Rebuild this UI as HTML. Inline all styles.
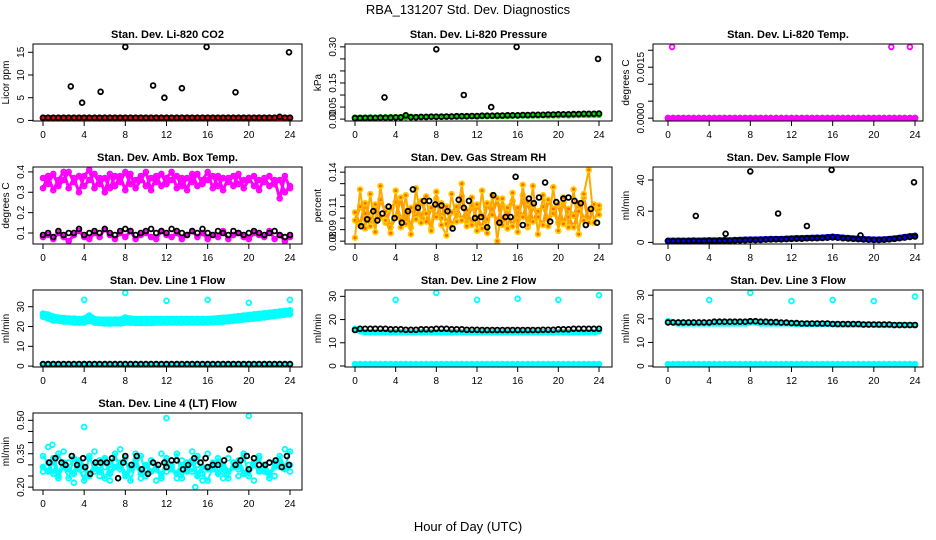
<!DOCTYPE html>
<html><head><meta charset="utf-8"><style>
body{margin:0;background:#fff}
svg{display:block;font-family:"Liberation Sans",sans-serif}
</style></head><body>
<svg id="c" width="936" height="540"></svg>
<script>
const H=[0,0.5,1,1.5,2,2.5,3,3.5,4,4.5,5,5.5,6,6.5,7,7.5,8,8.5,9,9.5,10,10.5,11,11.5,12,12.5,13,13.5,14,14.5,15,15.5,16,16.5,17,17.5,18,18.5,19,19.5,20,20.5,21,21.5,22,22.5,23,23.5,24];
const hourTicks=[0,4,8,12,16,20,24];
// CO2
const co2Red=[0.5,0.5,0.5,0.5,0.5,0.5,0.5,0.5,0.5,0.5,0.5,0.5,0.5,0.5,0.5,0.5,0.5,0.5,0.5,0.5,0.5,0.5,0.5,0.5,0.5,0.5,0.5,0.5,0.5,0.5,0.5,0.5,0.5,0.5,0.5,0.5,0.5,0.5,0.5,0.5,0.5,0.5,0.5,0.5,0.5,0.5,0.5,0.5,0.5];
const co2Blk=[0.6,0.6,0.6,0.6,0.6,0.6,0.6,0.6,0.6,0.6,0.6,0.6,0.6,0.6,0.6,0.6,0.6,0.6,0.6,0.6,0.6,0.6,0.6,0.6,0.6,0.6,0.6,0.6,0.6,0.6,0.6,0.6,0.6,0.6,0.6,0.6,0.6,0.6,0.6,0.6,0.6,0.6,0.6,0.6,0.6,0.6,0.8,0.6,0.6];
const co2OutX=[2.7,3.8,5.6,8,10.7,11.8,13.5,15.9,18.7,23.9];
const co2OutY=[7.5,3.9,6.3,16.2,7.7,5,7.1,16.2,6.2,15];
// Pressure
const prGreen=[0.006,0.006,0.006,0.007,0.006,0.007,0.007,0.008,0.007,0.008,0.008,0.009,0.008,0.009,0.009,0.010,0.009,0.010,0.010,0.011,0.010,0.011,0.011,0.012,0.011,0.012,0.012,0.013,0.012,0.013,0.013,0.014,0.014,0.015,0.014,0.015,0.015,0.016,0.015,0.016,0.016,0.017,0.016,0.017,0.017,0.018,0.017,0.018,0.018];
const prBlk=[0.004,0.004,0.005,0.005,0.005,0.006,0.006,0.006,0.007,0.007,0.016,0.008,0.008,0.009,0.009,0.010,0.010,0.010,0.011,0.011,0.012,0.012,0.012,0.013,0.013,0.014,0.014,0.014,0.015,0.015,0.016,0.016,0.016,0.017,0.017,0.018,0.018,0.018,0.019,0.019,0.020,0.020,0.020,0.021,0.021,0.022,0.022,0.022,0.023];
const prOutX=[2.9,8,10.7,13.4,15.9,23.9];
const prOutY=[0.09,0.29,0.1,0.05,0.3,0.25];
// Temp
const tpMag=[0,0,0,0,0,0,0,0,0,0,0,0,0,0,0,0,0,0,0,0,0,0,0,0,0,0,0,0,0,0,0,0,0,0,0,0,0,0,0,0,0,0,0,0,0,0,0,0,0];
const tpOutX=[0.4,21.7,23.5];
const tpOutY=[0.0021,0.0021,0.0021];
// Amb box temp
const abUp1=[0.37,0.34,0.39,0.33,0.36,0.40,0.35,0.38,0.33,0.36,0.39,0.34,0.37,0.32,0.38,0.35,0.40,0.34,0.36,0.38,0.33,0.37,0.35,0.39,0.34,0.36,0.38,0.33,0.37,0.35,0.39,0.34,0.36,0.38,0.33,0.37,0.35,0.38,0.34,0.36,0.37,0.33,0.36,0.35,0.38,0.34,0.36,0.30,0.33];
const abUp2=[0.32,0.38,0.31,0.36,0.40,0.32,0.37,0.30,0.38,0.41,0.32,0.37,0.30,0.39,0.33,0.38,0.31,0.39,0.32,0.36,0.40,0.31,0.38,0.33,0.37,0.40,0.32,0.37,0.31,0.39,0.33,0.36,0.40,0.32,0.38,0.31,0.37,0.33,0.39,0.32,0.36,0.38,0.31,0.37,0.33,0.36,0.27,0.38,0.32];
const abLow=[0.08,0.09,0.07,0.10,0.08,0.06,0.09,0.11,0.08,0.07,0.10,0.08,0.12,0.09,0.07,0.10,0.08,0.11,0.07,0.09,0.10,0.08,0.07,0.11,0.09,0.08,0.10,0.07,0.09,0.11,0.08,0.10,0.07,0.09,0.08,0.11,0.07,0.09,0.10,0.08,0.07,0.10,0.09,0.08,0.11,0.07,0.09,0.06,0.08];
const abBlk=[0.09,0.10,0.08,0.11,0.09,0.10,0.10,0.12,0.09,0.10,0.11,0.10,0.12,0.10,0.09,0.11,0.12,0.11,0.09,0.10,0.11,0.12,0.10,0.11,0.10,0.12,0.11,0.10,0.09,0.11,0.10,0.12,0.10,0.09,0.11,0.10,0.09,0.11,0.10,0.09,0.10,0.11,0.10,0.09,0.10,0.11,0.09,0.08,0.09];
// RH
const rh1=[0.098,0.110,0.104,0.093,0.112,0.101,0.096,0.108,0.114,0.099,0.106,0.092,0.111,0.103,0.097,0.109,0.101,0.113,0.095,0.105,0.110,0.098,0.107,0.094,0.112,0.102,0.099,0.108,0.096,0.111,0.104,0.093,0.109,0.101,0.114,0.097,0.106,0.110,0.099,0.104,0.112,0.095,0.108,0.102,0.113,0.098,0.107,0.110,0.103];
const rh2=[0.105,0.094,0.113,0.100,0.097,0.116,0.106,0.092,0.101,0.118,0.095,0.109,0.099,0.115,0.104,0.091,0.117,0.100,0.110,0.093,0.103,0.119,0.097,0.111,0.100,0.091,0.113,0.103,0.117,0.094,0.109,0.115,0.098,0.120,0.092,0.111,0.101,0.094,0.116,0.108,0.096,0.114,0.101,0.092,0.106,0.118,0.096,0.112,0.108];
const rh3=[0.083,0.125,0.091,0.121,0.088,0.128,0.098,0.087,0.124,0.092,0.120,0.086,0.126,0.096,0.119,0.089,0.123,0.094,0.085,0.121,0.097,0.130,0.093,0.118,0.089,0.124,0.087,0.120,0.080,0.117,0.091,0.122,0.088,0.129,0.094,0.128,0.086,0.120,0.093,0.127,0.089,0.118,0.092,0.125,0.086,0.121,0.142,0.096,0.111];
const rhBlkX=[0.6,1.2,1.8,2.2,2.7,3.3,3.9,4.6,5.2,5.7,6.2,6.8,7.3,7.9,8.5,9.1,9.6,10.2,10.7,11.2,11.8,12.4,13,13.6,14.2,14.8,15.3,15.8,16.5,17.1,17.6,18.1,18.7,19.2,19.8,20.5,21,21.6,22.2,22.7,23.2,23.8];
const rhBlkY=[0.093,0.099,0.106,0.098,0.104,0.110,0.100,0.096,0.106,0.125,0.109,0.115,0.115,0.112,0.111,0.106,0.091,0.116,0.109,0.115,0.100,0.101,0.092,0.120,0.096,0.101,0.101,0.136,0.094,0.117,0.113,0.118,0.131,0.097,0.114,0.117,0.118,0.115,0.113,0.094,0.108,0.096];
// Sample flow
const sfBlue=[1.0,1.0,1.1,1.0,1.1,1.2,1.1,1.2,1.3,1.2,1.3,1.4,1.3,1.5,1.6,1.7,1.8,1.8,1.9,2.0,2.1,2.2,2.2,2.3,2.5,2.6,2.7,2.8,2.9,3.0,3.1,3.3,3.6,3.3,3.0,2.8,2.5,2.3,2.1,1.9,1.8,1.8,1.9,2.2,2.5,2.9,3.4,3.9,4.2];
const sfBlk=[0.8,0.8,0.9,0.9,0.8,1.0,0.9,0.9,1.0,1.0,1.1,1.1,1.0,1.2,1.3,1.4,1.6,1.5,1.6,1.8,1.9,2.0,2.0,2.1,2.3,2.4,2.4,2.6,2.7,2.7,2.8,3.0,3.2,3.0,2.7,2.5,2.3,2.1,1.9,1.7,1.6,1.6,1.7,2.0,2.3,2.7,3.1,3.5,3.8];
const sfOutX=[2.7,5.6,8,10.7,13.5,15.9,18.7,23.9];
const sfOutY=[17,5.5,45.5,18.5,10.5,46.5,4.5,38.5];
// Line 1
const l1a=[25,24,23,23,22.5,22.5,22,22,22,23,22,21.8,21.5,21.5,21.7,21.5,22,22,21.8,21.8,21.8,21.8,22,22,22,22,22,22,22,22,22,22,22,22.2,22.3,22.5,22.7,23,23.2,23.5,23.8,24,24.3,24.6,25,25.3,25.6,26,26.2];
const l1b=[26.5,26,25,24.5,24.3,24,24,23.8,24,25.5,23.8,23.5,23.5,23.5,23.5,23.5,24.5,24,23.8,23.8,23.8,23.8,23.8,23.8,23.8,23.8,23.8,23.8,23.8,23.8,23.8,23.8,23.8,24,24.2,24.4,24.6,24.9,25.2,25.5,25.8,26.1,26.4,26.7,27,27.3,27.6,27.9,28.2];
const l1Low=[1,1,1,1,1,1,1,1,1,1,1,1,1,1,1,1,1,1,1,1,1,1,1,1,1,1,1,1,1,1,1,1,1,1,1,1,1,1,1,1,1,1,1,1,1,1,1,1,1];
const l1OutX=[4,8,12,16,20,24];
const l1OutY=[33.5,37,33,33.5,32,33.5];
// Line 2
const l2a=[16,15,14.5,14.5,14.5,14.5,14.5,14.5,14.5,14.5,14.5,14.5,14.5,14.5,14.5,14.5,14.5,14.5,14.5,14.5,14.5,14.5,14.5,14.5,14.5,14.5,14.5,14.5,14.5,14.5,14.5,14.5,14.5,14.5,14.5,14.5,14.5,14.5,14.5,14.5,14.5,14.5,14.5,14.5,14.5,14.5,14.5,14.5,15];
const l2Blk=[15.5,16,16,16,16,16,16,15.8,15.8,15.8,15.6,15.6,15.6,15.8,15.8,15.8,16,16,16,15.8,15.8,15.8,15.6,15.6,15.6,15.5,15.5,15.5,15.5,15.5,15.5,15.5,15.5,15.5,15.5,15.5,15.5,15.6,15.6,15.6,15.8,15.8,15.8,16,16,16,16,16,16];
const l2Low=[0.8,0.8,0.8,0.8,0.8,0.8,0.8,0.8,0.8,0.8,0.8,0.8,0.8,0.8,0.8,0.8,0.8,0.8,0.8,0.8,0.8,0.8,0.8,0.8,0.8,0.8,0.8,0.8,0.8,0.8,0.8,0.8,0.8,0.8,0.8,0.8,0.8,0.8,0.8,0.8,0.8,0.8,0.8,0.8,0.8,0.8,0.8,0.8,0.8];
const l2OutX=[4,8,12,16,20,24];
const l2OutY=[28.5,31.5,28.5,29,28.5,30.5];
// Line 3
const l3a=[19,18.5,18,18,18,18,18,18,18,18,18,18,18,18,18,18,18.5,18.5,18,18,18,18,18,18,18,17.8,17.8,17.8,17.8,17.8,17.8,17.8,17.8,17.6,17.6,17.6,17.6,17.6,17.6,17.6,17.6,17.4,17.4,17.4,17.4,17.4,17.4,17.4,17.4];
const l3Blk=[18.5,18.5,18.5,18.5,18.5,18.5,18.5,18.5,18.5,18.8,18.8,18.8,18.8,18.8,18.8,18.8,19,19,18.8,18.8,18.6,18.6,18.4,18.4,18.2,18.2,18,18,18,18,18,18,17.8,17.8,17.8,17.8,17.8,17.8,17.6,17.6,17.6,17.6,17.6,17.6,17.4,17.4,17.4,17.4,17.4];
const l3Low=[0.8,0.8,0.8,0.8,0.8,0.8,0.8,0.8,0.8,0.8,0.8,0.8,0.8,0.8,0.8,0.8,0.8,0.8,0.8,0.8,0.8,0.8,0.8,0.8,0.8,0.8,0.8,0.8,0.8,0.8,0.8,0.8,0.8,0.8,0.8,0.8,0.8,0.8,0.8,0.8,0.8,0.8,0.8,0.8,0.8,0.8,0.8,0.8,0.8];
const l3OutX=[4,8,12,16,20,24];
const l3OutY=[28,31,27.5,28,27.5,29.5];
// Line 4
const l4a=[0.29,0.27,0.33,0.25,0.31,0.28,0.26,0.32,0.29,0.25,0.30,0.27,0.33,0.26,0.29,0.31,0.25,0.28,0.32,0.26,0.30,0.27,0.29,0.25,0.31,0.28,0.26,0.30,0.27,0.32,0.25,0.29,0.28,0.31,0.26,0.30,0.27,0.29,0.32,0.26,0.28,0.31,0.27,0.30,0.26,0.29,0.32,0.28,0.30];
const l4b=[0.34,0.31,0.26,0.35,0.29,0.24,0.33,0.28,0.23,0.34,0.27,0.32,0.24,0.30,0.35,0.28,0.33,0.23,0.30,0.34,0.25,0.32,0.28,0.24,0.33,0.29,0.35,0.24,0.31,0.27,0.34,0.26,0.23,0.29,0.33,0.27,0.24,0.31,0.28,0.34,0.25,0.30,0.33,0.27,0.24,0.31,0.34,0.29,0.36];
const l4c=[0.27,0.38,0.29,0.24,0.36,0.31,0.22,0.30,0.26,0.33,0.36,0.25,0.29,0.23,0.31,0.37,0.26,0.30,0.35,0.24,0.28,0.32,0.23,0.35,0.27,0.30,0.24,0.32,0.28,0.36,0.30,0.23,0.35,0.28,0.31,0.24,0.33,0.29,0.25,0.35,0.30,0.23,0.34,0.28,0.31,0.25,0.29,0.37,0.27];
const l4BlkX=[0.6,1.2,1.8,2.2,2.8,3.3,3.9,4.1,4.6,5.1,5.6,6.2,6.7,7.3,7.8,8,8.6,9.1,9.6,10.2,10.7,11.2,11.8,12,12.5,13,13.6,14.1,14.7,15.3,15.8,16,16.5,17,17.6,18.1,18.7,19.2,19.8,20,20.5,21,21.6,22,22.6,23.2,23.7,23.9];
const l4BlkY=[0.31,0.33,0.31,0.30,0.34,0.30,0.33,0.29,0.26,0.31,0.31,0.31,0.33,0.24,0.31,0.34,0.30,0.34,0.28,0.26,0.31,0.30,0.31,0.29,0.32,0.32,0.28,0.30,0.33,0.31,0.33,0.29,0.30,0.30,0.32,0.37,0.30,0.32,0.34,0.28,0.33,0.30,0.30,0.31,0.32,0.29,0.34,0.30];
const l4OutX=[4,12,20,14.8,0.9];
const l4OutY=[0.47,0.51,0.52,0.20,0.39];

const NS='http://www.w3.org/2000/svg';
const svg=document.getElementById('c');
function mk(tag,attrs,parent){const e=document.createElementNS(NS,tag);for(const k in attrs)e.setAttribute(k,attrs[k]);(parent||svg).appendChild(e);return e;}

const cols=[{l:33,r:302,x0:43,x24:290},{l:345,r:612,x0:355,x24:599},{l:653,r:923,x0:668,x24:915}];
const rowsTop=[44,167,290,413];
const PH=77;

function panel(name,title,ylab,col,row,yTicks,yLabels,series){
  const c=cols[col],top=rowsTop[row],bot=top+PH;
  const g=mk('g',{});
  
  
  let lo=Infinity,hi=-Infinity;
  series.forEach(s=>s.y.forEach(v=>{lo=Math.min(lo,v);hi=Math.max(hi,v);}));
  const pad=(hi-lo)*0.04;lo-=pad;hi+=pad;
  const xs=h=>c.x0+(c.x24-c.x0)*h/24;
  const ys=v=>bot-(v-lo)/(hi-lo)*PH;
  series.forEach(s=>{
    const sg=mk('g',{},g);
    
    
    if(s.band){
      const pts=s.y.map((v,i)=>xs(s.x[i]).toFixed(1)+','+ys(v).toFixed(1)).join(' ');
      const pl=mk('polyline',{points:pts,fill:'none',stroke:s.bc||s.c,'stroke-width':s.band,'stroke-linejoin':'round','stroke-linecap':'round'},sg);
      
      
    }
    s.y.forEach((v,i)=>{
      const p=mk('circle',{cx:xs(s.x[i]).toFixed(1),cy:ys(v).toFixed(1),r:2.4,fill:s.f||'none',stroke:s.c,'stroke-width':1.8},sg);
      
      
    });
  });
  const box=mk('rect',{x:c.l,y:top,width:c.r-c.l,height:PH,fill:'none',stroke:'#000','stroke-width':1},g);
  
  
  const t=mk('text',{x:(c.l+c.r)/2,y:top-6,'text-anchor':'middle','font-size':11,'font-weight':'bold'},g);
  t.textContent=title;
  
  
  mk('line',{x1:c.x0,x2:c.x24,y1:bot,y2:bot,stroke:'#000'},g);
  hourTicks.forEach(h=>{
    mk('line',{x1:xs(h),x2:xs(h),y1:bot,y2:bot+5,stroke:'#000'},g);
    const tx=mk('text',{x:xs(h),y:bot+17,'text-anchor':'middle','font-size':10},g);
    tx.textContent=h;
    
    
  });
  mk('line',{x1:c.l,x2:c.l,y1:ys(yTicks[0]),y2:ys(yTicks[yTicks.length-1]),stroke:'#000'},g);
  yTicks.forEach((v,i)=>{
    const y=ys(v);
    mk('line',{x1:c.l-5,x2:c.l,y1:y,y2:y,stroke:'#000'},g);
    if(yLabels[i]!==''){
      const tx=mk('text',{x:c.l-9,y:y,'text-anchor':'middle','font-size':10,transform:`rotate(-90 ${c.l-9} ${y})`},g);
      tx.textContent=yLabels[i];
      
      
    }
  });
  const yl=mk('text',{x:c.l-24,y:(top+bot)/2,'text-anchor':'middle','font-size':10,transform:`rotate(-90 ${c.l-24} ${(top+bot)/2})`},g);
  yl.textContent=ylab;
  
  
}

panel('panel-co2','Stan. Dev. Li-820 CO2','Licor ppm',0,0,[0,5,10,15],['0','5','10','15'],[
 {n:'co2-red',x:H,y:co2Red,c:'#ff0000',f:'#ff0000',band:6},{n:'co2-black',x:H,y:co2Blk,c:'#000'},{n:'co2-outliers',x:co2OutX,y:co2OutY,c:'#000'}]);
panel('panel-pressure','Stan. Dev. Li-820 Pressure','kPa',1,0,[0,0.05,0.1,0.15,0.2,0.25,0.3],['0.00','0.05','','0.15','','','0.30'],[
 {n:'pressure-green',x:H,y:prGreen,c:'#00dd00',band:5},{n:'pressure-black',x:H,y:prBlk,c:'#000'},{n:'pressure-outliers',x:prOutX,y:prOutY,c:'#000'}]);
panel('panel-temp','Stan. Dev. Li-820 Temp.','degrees C',2,0,[0,0.0005,0.001,0.0015,0.002],['0.0000','','','0.0015',''],[
 {n:'temp-black',x:H,y:tpMag,c:'#000'},{n:'temp-magenta',x:H,y:tpMag,c:'#ff00ff',band:3},{n:'temp-outliers',x:tpOutX,y:tpOutY,c:'#ff00ff'}]);
panel('panel-ambbox','Stan. Dev. Amb. Box Temp.','degrees C',0,1,[0.1,0.2,0.3,0.4],['0.1','0.2','0.3','0.4'],[
 {n:'amb-upper-1',x:H,y:abUp1,c:'#ff00ff',band:3},{n:'amb-upper-2',x:H,y:abUp2,c:'#ff00ff',band:3},{n:'amb-lower',x:H,y:abLow,c:'#ff00ff',band:3},{n:'amb-black',x:H,y:abBlk,c:'#000'}]);
panel('panel-rh','Stan. Dev. Gas Stream RH','percent',1,1,[0.08,0.09,0.1,0.11,0.12,0.13,0.14],['0.08','0.09','','0.11','','','0.14'],[
 {n:'rh-1',x:H,y:rh1,c:'#ffcc00',f:'#ff6600',band:3,bc:'#ff9900'},{n:'rh-2',x:H,y:rh2,c:'#ffcc00',f:'#ff6600',band:3,bc:'#ff9900'},{n:'rh-3',x:H,y:rh3,c:'#ffcc00',f:'#ff6600',band:2,bc:'#ffaa00'},{n:'rh-black',x:rhBlkX,y:rhBlkY,c:'#000'}]);
panel('panel-sampleflow','Stan. Dev. Sample Flow','ml/min',2,1,[0,20,40],['0','20','40'],[
 {n:'sample-blue',x:H,y:sfBlue,c:'#0000ff',f:'#0000ff',band:6},{n:'sample-black',x:H,y:sfBlk,c:'#000'},{n:'sample-outliers',x:sfOutX,y:sfOutY,c:'#000'}]);
panel('panel-line1','Stan. Dev. Line 1 Flow','ml/min',0,2,[0,10,20,30],['0','10','20','30'],[
 {n:'line1-band-a',x:H,y:l1a,c:'#00ffff',f:'#00ffff',band:6},{n:'line1-band-b',x:H,y:l1b,c:'#00ffff',f:'#00ffff',band:6},{n:'line1-low',x:H,y:l1Low,c:'#00ffff',band:4},{n:'line1-black',x:H,y:l1Low,c:'#000'},{n:'line1-outliers',x:l1OutX,y:l1OutY,c:'#00ffff'}]);
panel('panel-line2','Stan. Dev. Line 2 Flow','ml/min',1,2,[0,10,20,30],['0','10','20','30'],[
 {n:'line2-band',x:H,y:l2a,c:'#00ffff',f:'#00ffff',band:6},{n:'line2-black',x:H,y:l2Blk,c:'#000'},{n:'line2-low',x:H,y:l2Low,c:'#00ffff',f:'#00ffff',band:5},{n:'line2-outliers',x:l2OutX,y:l2OutY,c:'#00ffff'}]);
panel('panel-line3','Stan. Dev. Line 3 Flow','ml/min',2,2,[0,10,20,30],['0','10','20','30'],[
 {n:'line3-band',x:H,y:l3a,c:'#00ffff',f:'#00ffff',band:6},{n:'line3-black',x:H,y:l3Blk,c:'#000'},{n:'line3-low',x:H,y:l3Low,c:'#00ffff',f:'#00ffff',band:5},{n:'line3-outliers',x:l3OutX,y:l3OutY,c:'#00ffff'}]);
panel('panel-line4','Stan. Dev. Line 4 (LT) Flow','ml/min',0,3,[0.2,0.25,0.3,0.35,0.4,0.45,0.5],['0.20','','','0.35','','','0.50'],[
 {n:'line4-a',x:H,y:l4a,c:'#00ffff',band:4},{n:'line4-b',x:H,y:l4b,c:'#00ffff',band:2},{n:'line4-c',x:H,y:l4c,c:'#00ffff'},{n:'line4-black',x:l4BlkX,y:l4BlkY,c:'#000'},{n:'line4-outliers',x:l4OutX,y:l4OutY,c:'#00ffff'}]);

const mt=mk('text',{x:468,y:14,'text-anchor':'middle','font-size':13});
mt.textContent='RBA_131207  Std. Dev. Diagnostics';


const xt=mk('text',{x:468,y:531,'text-anchor':'middle','font-size':13});
xt.textContent='Hour of Day (UTC)';


</script>
</body></html>
